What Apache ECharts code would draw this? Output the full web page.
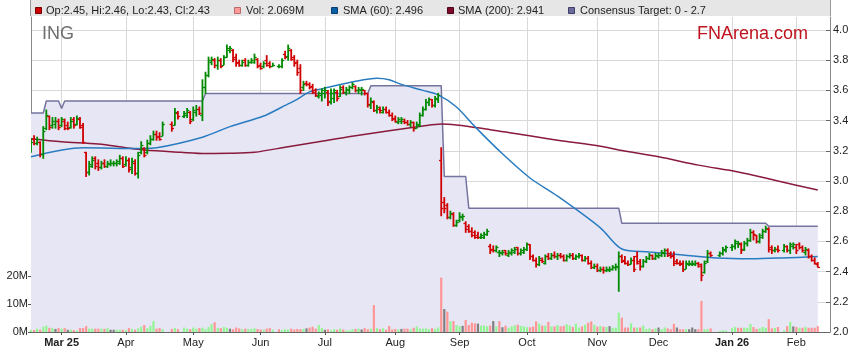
<!DOCTYPE html>
<html><head><meta charset="utf-8">
<script src="https://cdn.jsdelivr.net/npm/echarts@6/dist/echarts.min.js"></script>
<style>html,body{margin:0;padding:0;background:#fff}#c{width:859px;height:363px}</style>
</head><body><div id="c"></div>
<script>
// ---------- data ----------
const startDate = '2025-02-17';
const weekdayTotal = 262;
const holidays = ['2025-04-18','2025-04-21','2025-04-25','2025-06-09','2025-12-25','2025-12-26','2026-01-01','2026-01-26'];
const monthTicks = [['2025-03-03','Mar 25',true],['2025-04-01','Apr'],['2025-05-01','May'],['2025-06-02','Jun'],['2025-07-01','Jul'],['2025-08-01','Aug'],['2025-09-01','Sep'],['2025-10-01','Oct'],['2025-11-03','Nov'],['2025-12-01','Dec'],['2026-01-02','Jan 26',true],['2026-02-02','Feb']];
const priceTicks = [2.0,2.2,2.4,2.6,2.8,3.0,3.2,3.4,3.6,3.8,4.0];
const volumeTicks = [0,10,20];

// [open, high, low, close] per trading day
const priceBars = [
// Feb 2025
[3.21,3.28,3.19,3.26],[3.28,3.30,3.24,3.25],[3.25,3.29,3.24,3.28],[3.26,3.26,3.16,3.18],[3.18,3.36,3.15,3.33],
[3.35,3.47,3.34,3.44],[3.43,3.43,3.34,3.36],[3.37,3.42,3.35,3.40],[3.38,3.42,3.35,3.40],[3.40,3.41,3.34,3.36],
// Mar
[3.37,3.42,3.36,3.41],[3.40,3.41,3.34,3.35],[3.37,3.39,3.34,3.35],[3.36,3.42,3.35,3.40],[3.41,3.42,3.35,3.37],
[3.38,3.43,3.37,3.42],[3.41,3.42,3.35,3.36],[3.37,3.38,3.25,3.26],[3.19,3.19,3.03,3.06],[3.06,3.13,3.04,3.11],
[3.10,3.16,3.09,3.14],[3.15,3.16,3.08,3.10],[3.12,3.14,3.07,3.09],[3.09,3.13,3.08,3.12],[3.12,3.14,3.09,3.10],
[3.10,3.13,3.09,3.12],[3.11,3.14,3.10,3.12],[3.12,3.13,3.10,3.12],[3.12,3.14,3.10,3.13],[3.12,3.17,3.11,3.15],
[3.15,3.16,3.09,3.10],
// Apr
[3.11,3.16,3.10,3.14],[3.14,3.15,3.06,3.08],[3.09,3.15,3.05,3.13],[3.12,3.14,3.04,3.05],[3.05,3.19,3.02,3.17],
[3.19,3.26,3.18,3.24],[3.22,3.22,3.16,3.17],[3.19,3.27,3.18,3.25],[3.25,3.30,3.24,3.28],[3.28,3.33,3.27,3.31],
[3.31,3.33,3.27,3.29],[3.30,3.32,3.27,3.28],[3.30,3.39,3.30,3.38],
[3.38,3.39,3.33,3.35],[3.37,3.48,3.37,3.46],[3.45,3.46,3.41,3.43],
[3.43,3.46,3.42,3.45],[3.44,3.48,3.42,3.47],[3.46,3.46,3.38,3.40],
// May
[3.41,3.49,3.40,3.47],[3.46,3.50,3.43,3.48],[3.48,3.49,3.44,3.45],[3.44,3.67,3.40,3.62],[3.62,3.72,3.58,3.70],
[3.70,3.82,3.69,3.80],[3.79,3.82,3.77,3.81],[3.80,3.81,3.75,3.77],[3.77,3.82,3.74,3.80],[3.80,3.81,3.75,3.76],
[3.77,3.83,3.77,3.82],[3.82,3.90,3.82,3.88],[3.87,3.89,3.85,3.88],[3.87,3.87,3.79,3.81],[3.82,3.84,3.76,3.78],
[3.79,3.80,3.76,3.77],[3.77,3.80,3.76,3.79],[3.80,3.81,3.76,3.77],[3.77,3.80,3.76,3.79],[3.79,3.81,3.78,3.80],
[3.79,3.84,3.78,3.82],[3.81,3.81,3.75,3.76],
// Jun
[3.77,3.78,3.74,3.75],[3.76,3.79,3.75,3.78],[3.80,3.83,3.76,3.77],[3.78,3.79,3.75,3.76],[3.76,3.78,3.76,3.77],
[3.76,3.77,3.75,3.76],[3.76,3.81,3.75,3.80],[3.84,3.86,3.81,3.82],[3.83,3.90,3.80,3.88],[3.87,3.87,3.80,3.81],
[3.82,3.83,3.76,3.78],[3.79,3.80,3.70,3.72],[3.75,3.77,3.58,3.60],[3.62,3.66,3.60,3.64],[3.65,3.66,3.63,3.64],
[3.64,3.65,3.61,3.62],[3.63,3.64,3.58,3.59],[3.60,3.61,3.56,3.57],[3.56,3.59,3.55,3.58],[3.57,3.61,3.53,3.60],
// Jul
[3.58,3.62,3.55,3.60],[3.59,3.60,3.50,3.52],[3.53,3.61,3.51,3.58],[3.55,3.61,3.52,3.60],[3.59,3.60,3.53,3.55],
[3.56,3.63,3.56,3.61],[3.62,3.63,3.58,3.59],[3.59,3.62,3.57,3.61],[3.60,3.63,3.58,3.62],[3.62,3.65,3.61,3.64],
[3.63,3.63,3.59,3.60],[3.60,3.62,3.58,3.61],[3.60,3.62,3.57,3.61],[3.60,3.60,3.57,3.58],[3.58,3.58,3.49,3.51],
[3.50,3.55,3.48,3.53],[3.52,3.53,3.46,3.47],[3.47,3.50,3.45,3.49],[3.48,3.49,3.45,3.47],[3.46,3.49,3.45,3.48],
[3.48,3.49,3.45,3.46],[3.46,3.47,3.43,3.44],[3.44,3.45,3.40,3.41],
// Aug
[3.42,3.43,3.39,3.40],[3.39,3.42,3.38,3.41],[3.40,3.42,3.38,3.41],[3.40,3.41,3.38,3.39],[3.39,3.40,3.37,3.38],
[3.38,3.40,3.36,3.39],[3.39,3.39,3.33,3.35],[3.35,3.39,3.35,3.38],[3.37,3.45,3.36,3.44],[3.44,3.49,3.43,3.48],
[3.48,3.54,3.47,3.52],[3.52,3.55,3.50,3.54],[3.54,3.54,3.49,3.50],[3.50,3.56,3.49,3.55],[3.54,3.58,3.52,3.57],
[3.14,3.22,2.77,2.82],[2.86,2.89,2.79,2.82],[2.84,2.85,2.75,2.76],[2.76,2.80,2.75,2.79],[2.78,2.79,2.70,2.71],
[2.71,2.74,2.70,2.73],
// Sep
[2.74,2.79,2.73,2.77],[2.76,2.78,2.74,2.77],[2.72,2.73,2.66,2.68],[2.70,2.71,2.66,2.67],[2.67,2.69,2.63,2.64],
[2.66,2.67,2.62,2.63],[2.64,2.66,2.62,2.63],[2.63,2.65,2.62,2.64],[2.63,2.66,2.62,2.65],[2.65,2.68,2.64,2.67],
[2.57,2.58,2.52,2.54],[2.55,2.57,2.53,2.54],[2.54,2.57,2.53,2.56],[2.53,2.54,2.50,2.53],[2.52,2.54,2.51,2.53],
[2.54,2.54,2.51,2.52],[2.51,2.54,2.50,2.53],[2.52,2.55,2.51,2.54],[2.53,2.56,2.52,2.55],[2.56,2.56,2.51,2.52],
[2.52,2.55,2.51,2.54],[2.53,2.56,2.52,2.55],
// Oct
[2.55,2.59,2.54,2.58],[2.58,2.58,2.48,2.50],[2.50,2.51,2.47,2.48],[2.48,2.49,2.43,2.45],[2.45,2.50,2.44,2.49],
[2.48,2.49,2.46,2.47],[2.46,2.51,2.45,2.50],[2.50,2.52,2.48,2.49],[2.49,2.52,2.48,2.51],[2.51,2.53,2.49,2.50],
[2.50,2.52,2.48,2.51],[2.51,2.52,2.49,2.50],[2.50,2.51,2.47,2.48],[2.48,2.51,2.47,2.50],[2.50,2.52,2.49,2.51],
[2.51,2.52,2.48,2.49],[2.49,2.51,2.48,2.50],[2.50,2.52,2.49,2.51],[2.51,2.51,2.47,2.48],[2.48,2.50,2.47,2.49],
[2.49,2.50,2.45,2.46],[2.46,2.47,2.42,2.43],[2.43,2.45,2.42,2.44],
// Nov
[2.44,2.45,2.40,2.41],[2.41,2.43,2.40,2.42],[2.42,2.43,2.39,2.41],[2.41,2.43,2.40,2.42],[2.41,2.43,2.40,2.42],
[2.42,2.44,2.41,2.43],[2.43,2.45,2.41,2.44],[2.43,2.53,2.27,2.50],[2.50,2.51,2.46,2.47],[2.48,2.50,2.45,2.46],
[2.46,2.47,2.44,2.45],[2.45,2.49,2.45,2.48],[2.48,2.50,2.40,2.42],[2.50,2.53,2.45,2.46],[2.47,2.48,2.41,2.44],
[2.44,2.48,2.43,2.47],[2.47,2.50,2.46,2.49],[2.49,2.52,2.48,2.51],[2.51,2.51,2.48,2.49],[2.49,2.52,2.48,2.51],
// Dec
[2.50,2.52,2.49,2.51],[2.51,2.54,2.50,2.53],[2.52,2.55,2.50,2.54],[2.54,2.55,2.50,2.51],[2.52,2.53,2.49,2.50],
[2.51,2.53,2.44,2.46],[2.47,2.48,2.45,2.46],[2.46,2.47,2.44,2.45],[2.46,2.47,2.40,2.42],[2.42,2.47,2.42,2.46],
[2.45,2.47,2.44,2.46],[2.45,2.47,2.44,2.46],[2.45,2.47,2.44,2.46],[2.46,2.46,2.43,2.44],[2.45,2.45,2.34,2.38],
[2.40,2.47,2.39,2.46],[2.47,2.54,2.46,2.52],[2.52,2.53,2.50,2.51],
[2.51,2.53,2.50,2.52],[2.52,2.56,2.51,2.55],[2.54,2.57,2.53,2.56],
// Jan 2026
[2.56,2.58,2.54,2.57],[2.57,2.61,2.55,2.60],[2.59,2.60,2.56,2.59],[2.58,2.59,2.52,2.54],[2.55,2.60,2.54,2.59],
[2.59,2.62,2.57,2.61],[2.61,2.68,2.60,2.66],[2.66,2.67,2.61,2.65],[2.64,2.64,2.59,2.60],[2.60,2.65,2.59,2.63],
[2.64,2.68,2.62,2.67],[2.67,2.70,2.66,2.69],[2.68,2.69,2.53,2.55],[2.56,2.57,2.52,2.54],[2.54,2.56,2.53,2.55],
[2.55,2.57,2.53,2.54],
[2.54,2.58,2.53,2.57],[2.57,2.57,2.53,2.54],[2.54,2.59,2.52,2.58],[2.57,2.59,2.55,2.58],
// Feb 2026
[2.56,2.58,2.52,2.54],[2.58,2.59,2.55,2.56],[2.56,2.57,2.53,2.54],[2.53,2.56,2.51,2.55],[2.54,2.55,2.49,2.50],
[2.50,2.51,2.47,2.48],[2.48,2.49,2.45,2.46],[2.45,2.46,2.43,2.43]
];

// volume per trading day, millions
const volumes = [
0.7,0.7,1.2,0.8,1.9,2.3,1.5,1.4,1.1,1.4,
1.2,1.4,0.8,0.8,0.7,0.5,1.4,1.4,2.1,1.2,1.2,1.2,1.2,1.2,1.1,1.4,0.8,0.8,0.8,0.8,0.8,
0.7,1.4,1.1,0.8,1.3,1.9,2.5,1.3,2.2,3.9,1.2,1.4,1.0,1.1,1.5,1.0,1.6,1.2,1.0,
1.6,1.2,1.4,1.5,1.0,1.8,2.8,3.5,1.5,1.4,1.8,1.5,1.2,1.0,1.6,1.3,1.0,1.2,1.1,1.1,1.3,1.1,
0.9,0.8,1.2,1.4,0.8,1.0,0.7,1.0,0.9,1.2,0.9,1.1,1.0,1.1,1.3,1.6,1.9,1.2,2.5,1.5,
0.8,1.0,0.6,1.0,0.8,1.2,0.9,0.5,0.6,1.0,1.1,1.2,0.9,1.4,1.0,1.2,9.6,1.4,1.0,1.3,0.8,2.2,0.9,
1.1,0.9,1.1,1.2,1.2,0.9,1.5,2.0,1.2,1.2,1.3,1.0,1.4,1.1,1.6,19.4,8.2,7.3,3.9,3.9,2.5,
2.1,2.2,4.3,2.5,3.3,3.1,3.0,2.3,2.3,2.0,2.3,3.9,2.0,3.9,1.7,2.3,1.5,2.0,2.4,2.6,2.2,2.0,
1.7,1.7,2.0,3.8,3.0,2.3,2.3,3.6,2.0,2.0,2.5,2.0,2.2,2.8,2.3,1.8,3.0,1.6,2.0,2.6,3.3,3.8,2.6,
1.9,2.2,1.9,1.8,2.1,1.5,1.6,6.9,5.1,1.6,1.6,3.1,1.6,1.6,1.6,2.3,1.0,1.3,1.0,1.3,
1.6,1.0,1.6,1.3,1.0,2.9,1.6,1.0,1.0,1.0,1.0,1.6,1.0,1.0,11.1,1.0,1.0,1.3,0.4,0.6,0.5,
1.3,1.8,1.5,1.5,1.5,1.5,2.9,1.8,1.1,1.3,1.8,1.5,4.6,1.3,1.5,1.8,0.6,2.1,3.6,2.0,
1.8,1.5,1.5,1.8,1.5,1.5,1.5,2.069
];

// moving averages read at sparse weekday indices [index, value]
const sma60Points = [[0,3.16],[17,3.22],[36,3.215],[41,3.22],[56,3.29],[65,3.36],[76,3.43],[82,3.49],[86,3.53],[91,3.59],[95,3.61],[106,3.66],[113,3.68],[117,3.67],[121,3.64],[128,3.60],[133,3.57],[139,3.49],[145,3.36],[154,3.18],[163,3.02],[172,2.90],[186,2.69],[193,2.55],[202,2.53],[213,2.51],[224,2.49],[235,2.485],[245,2.49],[257,2.50]];
const sma200Points = [[0,3.28],[10,3.26],[22,3.245],[31,3.22],[37,3.205],[49,3.19],[57,3.182],[65,3.183],[73,3.19],[84,3.227],[91,3.25],[106,3.30],[128,3.364],[134,3.378],[150,3.34],[172,3.27],[186,3.23],[192,3.205],[205,3.16],[218,3.105],[231,3.06],[244,3.0],[257,2.94]];
// consensus target: value in effect from weekday index
const targetSteps = [[0,3.45],[5,3.53],[10,3.48],[11,3.53],[57,3.58],[111,3.63],[135,3.03],[143,2.82],[193,2.72],[241,2.70]];

const legendItems = [
  ['Op:2.45, Hi:2.46, Lo:2.43, Cl:2.43','#cc0000','#7a0000',35,46],
  ['Vol: 2.069M','#ff9a9a','#b86a6a',234,246],
  ['SMA (60): 2.496','#0b5fa5','#083f70',331,343],
  ['SMA (200): 2.941','#7d0a2a','#4a0518',447,458],
  ['Consensus Target: 0 - 2.7','#6a6a9c','#3f3f66',568,580]
];

// ---------- build ----------
const FONT = '"Liberation Sans", Arial, sans-serif';
const categories = [];
{ let d = new Date(startDate + 'T00:00:00Z');
  while (categories.length < weekdayTotal) { const w = d.getUTCDay(); if (w !== 0 && w !== 6) categories.push(d.toISOString().slice(0,10)); d.setUTCDate(d.getUTCDate()+1); } }
const holidaySet = new Set(holidays);
const tradeIdx = [];
for (let i = 0; i < categories.length && tradeIdx.length < priceBars.length; i++) if (!holidaySet.has(categories[i])) tradeIdx.push(i);

const tickMap = {}; monthTicks.forEach(t => { tickMap[t[0]] = t; });
const isTick = (idx) => !!tickMap[categories[idx]];

const ohlcData = priceBars.map((b,k) => [tradeIdx[k], b[0], b[1], b[2], b[3]]);
const volData = categories.map(() => null);
volumes.forEach((v,k) => {
  const prev = k > 0 ? priceBars[k-1][3] : priceBars[k][0];
  const c = priceBars[k][3];
  const col = c > prev ? '#93f593' : (c < prev ? '#ff9696' : '#808080');
  volData[tradeIdx[k]] = {value: v, itemStyle: {color: col}};
});
const targetData = tradeIdx.map(i => { let v = null; targetSteps.forEach(s => { if (s[0] <= i) v = s[1]; }); return [i, v]; });

function renderOHLC(params, api) {
  const x = api.value(0), o = api.value(1), h = api.value(2), l = api.value(3), c = api.value(4);
  const pH = api.coord([x,h]), pL = api.coord([x,l]), pO = api.coord([x,o]), pC = api.coord([x,c]);
  const color = c >= o ? '#008a00' : '#d00000';
  const cx = pH[0];
  const yo = Math.round(pO[1]) + 0.5, yc = Math.round(pC[1]) + 0.5;
  return {type:'group', children:[
    {type:'line', shape:{x1:cx, y1:pH[1]-0.5, x2:cx, y2:pL[1]+0.5}, style:{stroke:color, lineWidth:1.8}},
    {type:'line', shape:{x1:cx-2.2, y1:yo, x2:cx, y2:yo}, style:{stroke:color, lineWidth:1.3}},
    {type:'line', shape:{x1:cx, y1:yc, x2:cx+2.2, y2:yc}, style:{stroke:color, lineWidth:1.3}}
  ]};
}

const graphics = [
  {type:'rect', shape:{x:31, y:0, width:799, height:16}, style:{fill:'#e6e6e6'}, z:10},
  {type:'line', shape:{x1:30.5, y1:0, x2:30.5, y2:16}, style:{stroke:'#999', lineWidth:1}, z:10},
  {type:'line', shape:{x1:830.5, y1:0, x2:830.5, y2:16}, style:{stroke:'#999', lineWidth:1}, z:10},
  {type:'text', style:{x:42, y:34, text:'ING', font:'18px ' + FONT, fill:'#6e6e6e', verticalAlign:'middle'}, z:10},
  {type:'text', style:{x:808, y:34, text:'FNArena.com', font:'18px ' + FONT, fill:'#c0141e', align:'right', verticalAlign:'middle'}, z:10}
];
legendItems.forEach(it => {
  graphics.push({type:'rect', shape:{x:it[3]+0.5, y:7.5, width:6, height:6}, style:{fill:it[1], stroke:it[2], lineWidth:1}, z:11});
  graphics.push({type:'text', style:{x:it[4], y:10.5, text:it[0], font:'11px ' + FONT, fill:'#222', verticalAlign:'middle'}, z:11});
});

const chart = echarts.init(document.getElementById('c'), null, {renderer:'canvas'});
chart.setOption({
  animation:false,
  backgroundColor:'#ffffff',
  grid:{left:31, right:29, top:17, bottom:31, containLabel:false},
  graphic: graphics,
  xAxis:{
    type:'category', data:categories, boundaryGap:false,
    axisLine:{show:true, lineStyle:{color:'#666', width:1}},
    axisTick:{show:true, interval:(i)=>isTick(i), length:3, lineStyle:{color:'#555'}},
    axisLabel:{interval:(i)=>isTick(i), margin:5, color:'#222', fontSize:11, fontFamily:FONT,
      formatter:(v)=>{ const t = tickMap[v]; if (!t) return ''; return t[2] ? '{b|' + t[1] + '}' : t[1]; },
      rich:{b:{fontWeight:'bold', fontSize:11, fontFamily:FONT, color:'#222'}}},
    splitLine:{show:true, interval:(i)=>isTick(i), lineStyle:{color:'#d8d8d8', width:1}}
  },
  yAxis:[
    {type:'value', position:'right', min:2, max:4.086, interval:0.2,
      axisLine:{show:true, lineStyle:{color:'#888'}},
      axisTick:{show:true, inside:true, length:4, customValues:priceTicks, lineStyle:{color:'#666'}},
      axisLabel:{customValues:priceTicks, margin:3, color:'#222', fontSize:11, fontFamily:FONT, formatter:(v)=> v > 4.01 ? '' : v.toFixed(1)},
      splitLine:{show:true, lineStyle:{color:'#d8d8d8', width:1}}},
    {type:'value', position:'left', min:0, max:112.5,
      axisLine:{show:true, lineStyle:{color:'#888'}},
      axisTick:{show:true, length:3, customValues:volumeTicks, lineStyle:{color:'#555'}},
      axisLabel:{customValues:volumeTicks, margin:3, color:'#222', fontSize:11, fontFamily:FONT, formatter:(v)=> v > 20 ? '' : v + 'M'},
      splitLine:{show:false}}
  ],
  series:[
    {name:'Consensus Target', type:'line', yAxisIndex:0, data:targetData, symbol:'none', silent:true, z:1,
      lineStyle:{color:'#74749f', width:1.5}, areaStyle:{color:'#e6e6f5', opacity:1, origin:'start'}},
    {name:'Vol', type:'bar', yAxisIndex:1, data:volData, barWidth:2.2, silent:true, z:2},
    {name:'SMA (200)', type:'line', yAxisIndex:0, data:sma200Points, symbol:'none', smooth:0.3, silent:true, z:3,
      lineStyle:{color:'#8a1a3c', width:1.5}},
    {name:'SMA (60)', type:'line', yAxisIndex:0, data:sma60Points, symbol:'none', smooth:0.3, silent:true, z:3,
      lineStyle:{color:'#2a7cc0', width:1.5}},
    {name:'Price', type:'custom', yAxisIndex:0, data:ohlcData, renderItem:renderOHLC, encode:{x:0, y:[1,2,3,4]}, silent:true, z:4, clip:true}
  ]
});
</script></body></html>
